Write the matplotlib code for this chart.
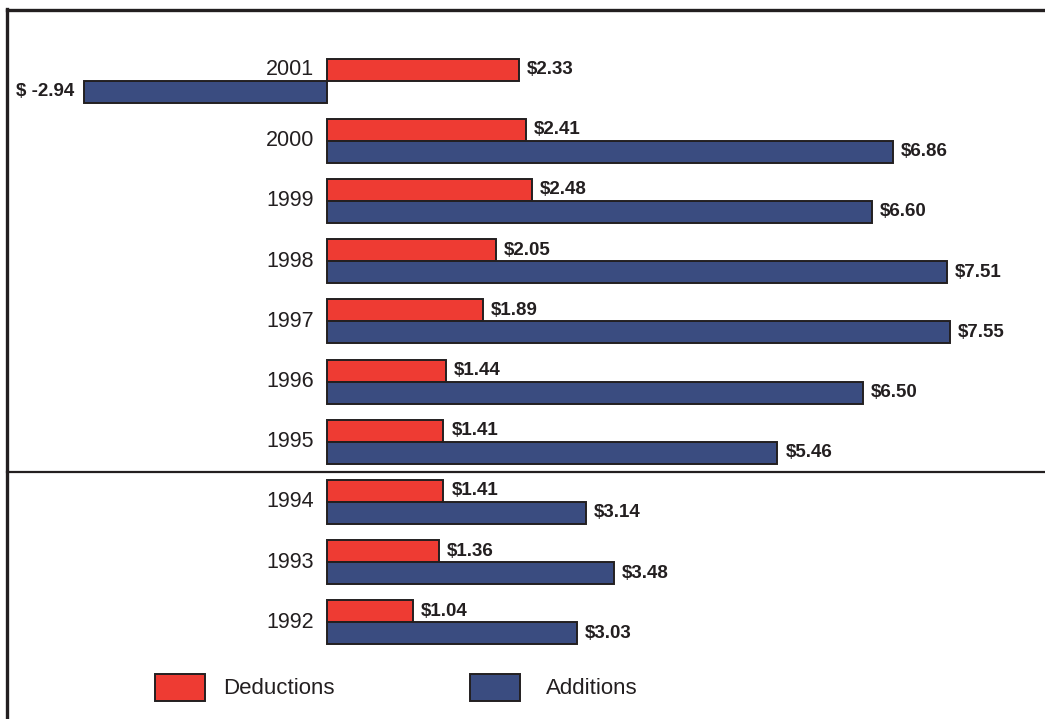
import matplotlib
matplotlib.use("Agg")
import matplotlib.pyplot as plt
from matplotlib.patches import Rectangle
from matplotlib.lines import Line2D

plt.rcParams['font.family'] = ['Liberation Sans', 'DejaVu Sans']

years = ["2001", "2000", "1999", "1998", "1997", "1996", "1995", "1994", "1993", "1992"]
deductions = [2.33, 2.41, 2.48, 2.05, 1.89, 1.44, 1.41, 1.41, 1.36, 1.04]
additions = [-2.94, 6.86, 6.60, 7.51, 7.55, 6.50, 5.46, 3.14, 3.48, 3.03]
legend_labels = ["Deductions", "Additions"]

RED = "#EE3B33"
BLUE = "#3A4C80"
INK = "#231F20"

W, H = 1045, 719
fig = plt.figure(figsize=(W / 100, H / 100), dpi=100)
ax = fig.add_axes([0, 0, 1, 1])
ax.set_axis_off()

# pixel mapping: x_pix = 327 + 82.5*v ; y_pix = 80.5 + 60.2*i
xs = 82.5
ys = 60.2
ax.set_xlim(-327 / xs, (W - 327) / xs)
ax.set_ylim((H - 80.5) / ys, -80.5 / ys)

bh = 22 / ys
idx = list(range(len(years)))
red_y = [i - bh / 2 for i in idx]
blue_y = [i + bh / 2 for i in idx]

ax.barh(red_y, deductions, height=bh, color=RED, edgecolor=INK, linewidth=1.4)
ax.barh(blue_y, additions, height=bh, color=BLUE, edgecolor=INK, linewidth=1.4)

off = 8 * 72 / 100
for y, v in zip(red_y, deductions):
    ax.annotate(f"${v:.2f}", (v, y), xytext=(off, 0), textcoords="offset points",
                ha="left", va="center", fontsize=13.5, fontweight="bold", color=INK)
for y, v in zip(blue_y, additions):
    if v >= 0:
        ax.annotate(f"${v:.2f}", (v, y), xytext=(off, 0), textcoords="offset points",
                    ha="left", va="center", fontsize=13.5, fontweight="bold", color=INK)
    else:
        ax.annotate(f"$ {v:.2f}", (v, y), xytext=(-10 * 0.72, 0), textcoords="offset points",
                    ha="right", va="center", fontsize=13.5, fontweight="bold", color=INK)

for i, yr in enumerate(years):
    yy = red_y[i] if additions[i] < 0 else i
    ax.annotate(yr, (0, yy), xytext=(-13 * 0.72, 0), textcoords="offset points",
                ha="right", va="center", fontsize=15.5, color=INK)

def fx(x):
    return x / W

def fy(y):
    return 1 - y / H

# frame lines
fig.add_artist(Line2D([fx(7), fx(7)], [fy(9), fy(H)], color=INK, lw=2.4))
fig.add_artist(Line2D([fx(7), fx(W)], [fy(10), fy(10)], color=INK, lw=2.4))
fig.add_artist(Line2D([fx(7), fx(W)], [fy(472), fy(472)], color=INK, lw=1.6))

# legend
for (x0, tx, col, lab) in [(155, 223, RED, legend_labels[0]), (470, 546, BLUE, legend_labels[1])]:
    fig.add_artist(Rectangle((fx(x0), fy(701)), fx(50), 27 / H, transform=fig.transFigure,
                             facecolor=col, edgecolor=INK, lw=1.4))
    fig.text(fx(tx), fy(688), lab, ha="left", va="center", fontsize=16, color=INK)

fig.savefig("out.png", dpi=100)
